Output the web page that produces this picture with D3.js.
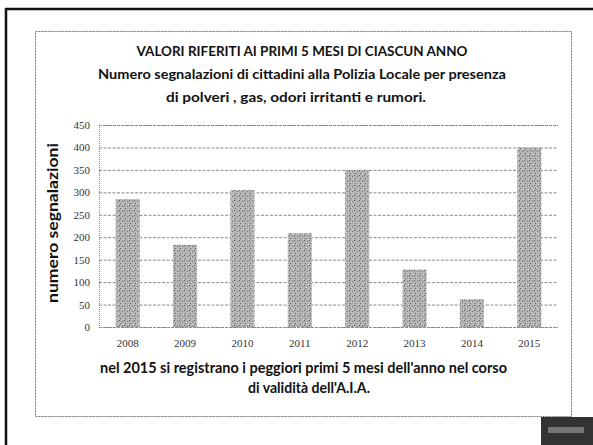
<!DOCTYPE html>
<html>
<head>
<meta charset="utf-8">
<script src="https://cdn.jsdelivr.net/npm/d3@7"></script>
<style>
  body { margin: 0; background: #fff; }
  svg { display: block; }
</style>
</head>
<body>
<div id="chart"></div>
<script>
// data
let years = ['2008', '2009', '2010', '2011', '2012', '2013', '2014', '2015'];
let reports = [285, 183, 305, 209, 350, 128, 62, 400];
let yTicks = [0, 50, 100, 150, 200, 250, 300, 350, 400, 450];
let titleLines = [
  'VALORI RIFERITI AI PRIMI 5 MESI DI CIASCUN ANNO',
  'Numero segnalazioni di cittadini alla Polizia Locale per presenza',
  'di polveri , gas, odori irritanti e rumori.'
];
let noteLines = [
  "nel 2015 si registrano i peggiori primi 5 mesi dell'anno nel corso",
  "di validità dell'A.I.A."
];
let yLabel = 'numero segnalazioni';

let width = 593;
let height = 445;
let fontFamily = 'Lato, "Open Sans", sans-serif';
let tickFont = '"Liberation Serif", "DejaVu Serif", serif';

let svg = d3.select('#chart')
  .append('svg')
  .attr('width', width)
  .attr('height', height);

// speckled grey fill like the photocopied bars
let defs = svg.append('defs');
let pat = defs.append('pattern')
  .attr('id', 'speckle')
  .attr('width', 5)
  .attr('height', 5)
  .attr('patternUnits', 'userSpaceOnUse');
pat.append('rect').attr('width', 5).attr('height', 5).attr('fill', '#b3b3b3');
[[0, 0, '#5a5a5a'], [3, 1, '#777'], [1, 3, '#666'], [4, 4, '#d4d4d4'], [2, 2, '#d0d0d0']]
  .forEach(([px, py, c]) => {
    pat.append('rect').attr('x', px).attr('y', py)
      .attr('width', 1).attr('height', 1).attr('fill', c);
  });

// outer page frame (top and left edges only show in the scan)
svg.append('line')
  .attr('x1', 5).attr('x2', width).attr('y1', 9).attr('y2', 9)
  .attr('stroke', '#111').attr('stroke-width', 2.5);
svg.append('line')
  .attr('x1', 6).attr('x2', 6).attr('y1', 8).attr('y2', height)
  .attr('stroke', '#111').attr('stroke-width', 2.5);

// chart area box
svg.append('rect')
  .attr('x', 35.5).attr('y', 31.5)
  .attr('width', 536).attr('height', 385)
  .attr('fill', 'none')
  .attr('stroke', '#777')
  .attr('stroke-width', 1)
  .attr('stroke-dasharray', '2,1');

// dark scan smudge in the bottom-right corner
svg.append('rect')
  .attr('x', 541).attr('y', 417)
  .attr('width', 52).attr('height', 28)
  .attr('fill', '#333');
svg.append('rect')
  .attr('x', 548).attr('y', 427)
  .attr('width', 36).attr('height', 6)
  .attr('fill', '#777');

let margin = { top: 125, right: 35, bottom: 118, left: 99 };
let plotW = width - margin.left - margin.right;
let plotH = height - margin.top - margin.bottom;

let x = d3.scaleBand()
  .domain(years)
  .range([0, plotW])
  .paddingInner(0.58)
  .paddingOuter(0.29);

let y = d3.scaleLinear()
  .domain([0, 450])
  .range([plotH, 0]);

let g = svg.append('g')
  .attr('transform', `translate(${margin.left},${margin.top})`);

// gridlines
let yAxis = d3.axisLeft(y)
  .tickValues(yTicks)
  .tickSize(-plotW)
  .tickPadding(9)
  .tickFormat(d3.format('d'));

let yG = g.append('g').call(yAxis);
yG.select('.domain')
  .attr('stroke', '#888')
  .attr('stroke-dasharray', '1,1');
yG.selectAll('.tick line')
  .attr('stroke', '#8a8a8a')
  .attr('stroke-dasharray', '3,1.5');
yG.selectAll('.tick text')
  .attr('font-family', tickFont)
  .attr('font-size', 11)
  .attr('fill', '#333');

// bars
g.selectAll('rect.bar')
  .data(reports)
  .enter()
  .append('rect')
  .attr('class', 'bar')
  .attr('x', (d, i) => x(years[i]))
  .attr('y', d => y(d))
  .attr('width', x.bandwidth())
  .attr('height', d => plotH - y(d))
  .attr('fill', 'url(#speckle)');

let xAxis = d3.axisBottom(x).tickSize(0).tickPadding(12);
let xG = g.append('g')
  .attr('transform', `translate(0,${plotH})`)
  .call(xAxis);
xG.select('.domain').remove();
xG.selectAll('.tick text')
  .attr('font-family', tickFont)
  .attr('font-size', 11)
  .attr('fill', '#333');

// y axis title
svg.append('text')
  .attr('transform', 'translate(58,223) rotate(-90)')
  .attr('text-anchor', 'middle')
  .attr('font-family', fontFamily)
  .attr('font-weight', 'bold')
  .attr('font-size', 15)
  .attr('textLength', 160)
  .attr('lengthAdjust', 'spacingAndGlyphs')
  .attr('fill', '#111')
  .text(yLabel);

// title lines: [baseline y, width of the line in the scan]
let titleFit = [[56, 331], [79, 408], [102, 260]];
svg.selectAll('text.title')
  .data(titleLines)
  .enter()
  .append('text')
  .attr('class', 'title')
  .attr('x', (d, i) => 302 - (i === 2 ? 6 : 0))
  .attr('y', (d, i) => titleFit[i][0])
  .attr('text-anchor', 'middle')
  .attr('font-family', fontFamily)
  .attr('font-weight', 'bold')
  .attr('font-size', 14)
  .attr('textLength', (d, i) => titleFit[i][1])
  .attr('lengthAdjust', 'spacingAndGlyphs')
  .attr('fill', '#111')
  .text(d => d);

let noteFit = [[373, 407], [393, 122]];
svg.selectAll('text.note')
  .data(noteLines)
  .enter()
  .append('text')
  .attr('class', 'note')
  .attr('x', (d, i) => i === 0 ? 303.5 : 309)
  .attr('y', (d, i) => noteFit[i][0])
  .attr('text-anchor', 'middle')
  .attr('font-family', fontFamily)
  .attr('font-weight', 'bold')
  .attr('font-size', 15)
  .attr('textLength', (d, i) => noteFit[i][1])
  .attr('lengthAdjust', 'spacingAndGlyphs')
  .attr('fill', '#111')
  .text(d => d);
</script>
</body>
</html>
